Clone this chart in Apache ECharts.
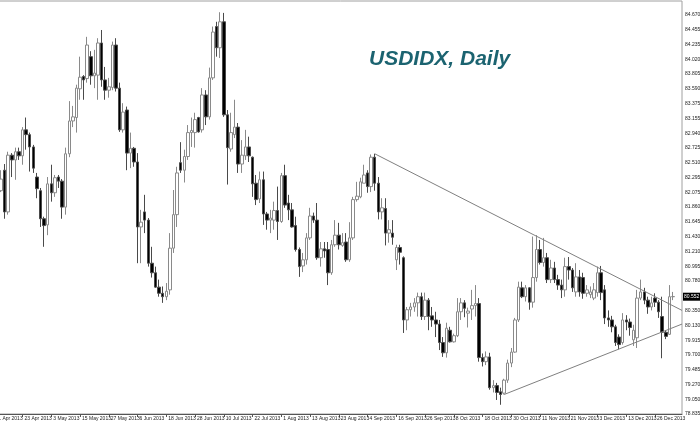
<!DOCTYPE html>
<html><head><meta charset="utf-8">
<script src="https://cdn.jsdelivr.net/npm/echarts@6/dist/echarts.min.js"></script>
<style>html,body{margin:0;padding:0;background:#fff}#c{width:700px;height:424px}</style>
</head><body><div id="c"></div><script>
// ---- data ----
const MONTHS = ['Jan','Feb','Mar','Apr','May','Jun','Jul','Aug','Sep','Oct','Nov','Dec'];
const sessionFirstDay = '2013-04-11';
const sessionLastDay = '2014-01-03';
const holidays = ['2013-12-25', '2014-01-01'];
const firstBarDate = '15 Apr 2013';
const rightPadSlots = 2;

const opens = [
82.10,82.40,81.79,82.62,82.55,82.67,82.61,82.99,82.92,82.74,
82.30,82.10,81.69,81.60,82.20,82.07,82.30,82.24,81.86,82.64,
83.12,83.17,83.59,83.77,83.74,84.06,83.78,83.79,84.26,83.72,
83.57,83.61,84.23,83.60,82.99,83.28,82.65,82.72,82.52,81.57,
81.79,81.67,81.04,80.90,80.69,80.60,80.55,80.65,81.26,81.75,
82.51,82.40,82.60,82.95,82.95,83.17,82.99,83.50,83.18,83.75,
84.50,84.19,84.57,83.21,82.71,82.92,83.03,82.49,82.61,82.74,
82.59,82.21,81.98,82.26,81.76,81.67,81.67,81.81,81.65,82.32,
81.92,81.82,81.59,81.24,81.00,81.09,81.41,81.73,81.67,81.12,
81.25,81.24,80.90,81.31,81.45,81.30,81.35,81.09,81.41,81.97,
82.01,82.21,82.36,82.16,82.59,82.21,81.79,81.84,81.48,81.48,
81.09,81.27,81.12,80.21,80.36,80.40,80.46,80.55,80.26,80.50,
80.27,80.21,80.15,79.88,79.73,80.06,79.89,79.98,80.33,80.46,
80.31,80.37,80.42,80.45,79.66,79.60,79.67,79.22,79.25,79.16,
79.14,79.33,79.58,79.74,80.21,80.68,80.55,80.68,80.47,80.83,
81.24,81.05,81.12,80.80,80.97,80.80,80.72,80.65,80.99,80.94,
80.62,80.84,80.83,80.60,80.58,80.53,80.61,80.90,80.65,80.24,
80.21,80.11,79.96,79.88,80.21,80.18,79.92,79.95,80.53,80.62,
80.50,80.40,80.53,80.47,80.26,80.03,80.00,80.55
];
const closes = [
82.27,81.79,82.62,82.55,82.67,82.61,82.99,82.92,82.74,82.43,
82.13,81.69,81.59,82.20,82.07,82.29,82.24,81.86,82.64,83.12,
83.18,83.60,83.76,83.72,84.23,83.78,83.82,84.26,83.72,83.57,
83.62,84.23,83.60,82.99,83.25,82.65,82.72,82.52,81.57,81.64,
81.67,81.04,80.90,80.69,80.60,80.55,80.63,81.26,81.75,82.36,
82.40,82.60,82.95,82.98,83.14,82.96,83.50,83.18,83.75,84.42,
84.19,84.57,83.21,82.73,82.95,83.03,82.49,82.62,82.74,82.61,
82.20,81.97,82.26,81.76,81.67,81.70,81.81,81.65,82.32,81.89,
81.82,81.57,81.24,80.99,81.09,81.41,81.73,81.67,81.12,81.25,
81.22,80.90,81.31,81.45,81.31,81.34,81.09,81.41,81.97,82.02,
82.23,82.33,82.16,82.59,82.21,81.79,81.85,81.48,81.53,81.42,
81.27,81.20,80.21,80.36,80.40,80.46,80.55,80.26,80.50,80.26,
80.21,80.15,79.88,79.73,80.09,79.89,79.98,80.33,80.46,80.38,
80.34,80.42,80.45,79.66,79.60,79.67,79.22,79.25,79.15,79.12,
79.33,79.58,79.74,80.21,80.69,80.55,80.68,80.47,80.83,81.24,
81.05,81.12,80.80,80.97,80.80,80.72,80.65,80.99,80.94,80.68,
80.84,80.62,80.60,80.65,80.62,80.65,80.90,80.61,80.24,80.21,
80.11,79.88,79.85,80.21,80.18,80.10,80.06,80.53,80.62,80.50,
80.40,80.46,80.47,80.33,80.03,79.97,80.55,80.552
];
const highs = [
82.40,82.49,82.67,82.65,82.73,82.73,83.03,83.17,82.95,82.77,
82.36,82.14,81.72,82.30,82.48,82.33,82.33,82.27,82.73,83.41,
83.34,83.65,84.06,83.79,84.35,84.14,84.16,84.33,84.45,83.91,
83.75,84.28,84.33,83.68,83.38,83.33,82.95,82.74,82.65,81.82,
82.04,81.70,81.28,80.99,80.80,80.70,80.75,81.48,82.11,82.45,
82.81,82.70,83.06,83.17,83.24,83.18,83.60,83.57,83.90,84.50,
84.57,84.71,84.70,83.28,83.24,83.43,83.09,82.84,82.99,82.89,
82.60,82.33,82.38,82.38,81.79,81.82,81.94,82.16,82.36,82.48,
82.04,81.92,81.72,81.27,81.19,81.48,81.85,81.78,81.92,81.35,
81.35,81.35,81.38,81.67,81.63,81.48,81.48,81.64,82.01,82.23,
82.29,82.48,82.40,82.63,82.64,82.30,81.99,81.99,81.67,81.67,
81.31,81.31,81.14,80.40,80.46,80.53,80.61,80.61,80.61,80.53,
80.40,80.33,80.21,79.96,80.17,80.11,80.01,80.53,80.53,80.50,
80.39,80.65,80.72,80.53,79.72,79.75,79.73,79.33,79.29,79.22,
79.35,79.63,79.80,80.24,80.77,80.77,80.72,80.69,81.43,81.45,
81.38,81.41,81.19,81.09,81.06,80.87,80.80,81.12,81.13,80.97,
81.04,80.94,80.90,80.72,80.70,80.75,80.99,81.00,80.72,80.35,
80.27,80.14,80.00,80.31,80.28,80.23,80.14,80.65,80.80,80.68,
80.55,80.55,80.60,80.50,80.55,80.06,80.72,80.62
];
const lows = [
82.08,81.69,81.75,82.30,82.26,82.55,82.48,82.70,82.38,82.36,
81.99,81.57,81.28,81.45,81.94,82.01,82.14,81.69,81.75,82.59,
83.03,82.95,83.43,83.43,83.68,83.65,83.60,83.43,83.62,83.43,
83.46,83.57,83.55,82.96,82.95,82.40,82.43,82.45,81.04,81.04,
81.48,80.99,80.83,80.68,80.55,80.46,80.50,80.58,81.19,81.57,
82.36,82.22,82.55,82.74,82.73,82.95,82.95,83.06,83.14,83.72,
84.06,84.04,83.18,82.19,82.67,82.87,82.36,82.36,82.55,82.52,
82.01,81.89,81.92,81.60,81.53,81.48,81.53,81.38,81.63,81.85,
81.67,81.56,81.21,80.84,80.91,81.02,81.38,81.63,81.09,80.99,
81.12,80.72,80.87,81.28,81.24,81.28,81.06,81.06,81.38,81.94,
81.99,82.21,82.07,82.08,82.10,81.68,81.68,81.30,81.34,81.31,
80.94,81.02,80.02,80.06,80.26,80.33,80.26,80.21,80.21,80.06,
80.11,79.96,79.77,79.67,79.66,79.88,79.88,79.96,80.21,80.25,
80.10,80.21,80.26,79.60,79.53,79.55,79.19,79.15,79.04,78.97,
79.12,79.29,79.52,79.73,80.18,80.53,80.48,80.36,80.39,80.77,
81.02,80.99,80.75,80.75,80.75,80.65,80.53,80.55,80.80,80.62,
80.55,80.55,80.52,80.55,80.53,80.50,80.55,80.50,80.15,80.11,
80.03,79.83,79.78,79.85,80.06,79.98,79.83,79.80,80.50,80.44,
80.30,80.35,80.40,80.24,79.65,79.93,79.99,80.50
];
const priceTicks = [84.670,84.455,84.235,84.020,83.805,83.590,83.375,83.155,82.940,82.725,
  82.510,82.295,82.075,81.860,81.645,81.430,81.210,80.995,80.780,80.350,80.130,79.915,
  79.700,79.485,79.270,79.050,78.835];
const priceMin = 78.835, priceMax = 84.874;
const labelEvery = 8;
const upperTrendStart = ['6 Sep 2013', 82.64], upperTrendEdge = 80.35;
const lowerTrendStart = ['28 Oct 2013', 79.12], lowerTrendEdge = 80.15;

// ---- categories ----
const categories = [];
for (let t = Date.parse(sessionFirstDay + 'T00:00:00Z'); t <= Date.parse(sessionLastDay + 'T00:00:00Z'); t += 864e5) {
  const d = new Date(t), wd = d.getUTCDay();
  if (wd === 0 || wd === 6) continue;
  if (holidays.includes(d.toISOString().slice(0, 10))) continue;
  categories.push(d.getUTCDate() + ' ' + MONTHS[d.getUTCMonth()] + ' ' + d.getUTCFullYear());
}
const nDates = categories.length;
for (let k = 0; k < rightPadSlots; k++) categories.push(' '.repeat(k + 1));
const offset = categories.indexOf(firstBarDate);
const candleData = categories.map((c, p) => {
  const i = p - offset;
  if (i < 0 || i >= opens.length) return ['-', '-', '-', '-'];
  return [opens[i], closes[i], lows[i], highs[i]];
});
const edgeX = categories.length - 0.5;
const lastClose = closes[closes.length - 1];

const chart = echarts.init(document.getElementById('c'), null, {renderer: 'canvas'});
const axisFont = {fontFamily: 'Liberation Sans', fontSize: 5, color: '#222'};
chart.setOption({
  animation: false,
  backgroundColor: '#ffffff',
  title: {
    text: 'USDIDX, Daily', left: 364, top: 44,
    textStyle: {fontFamily: 'Liberation Sans', fontSize: 21, fontWeight: 'bold', fontStyle: 'italic', color: '#1b6370'}
  },
  grid: {left: -8, right: 18, top: 1, bottom: 10, show: true, borderColor: '#a0a0a0', borderWidth: 1,
    containLabel: false, outerBoundsMode: 'none'},
  xAxis: [{
    type: 'category', data: categories, boundaryGap: true,
    axisLine: {lineStyle: {color: '#555', width: 1}},
    axisTick: {show: true, alignWithLabel: true, length: 3, interval: (idx) => idx % labelEvery === 0 && idx < nDates, lineStyle: {color: '#555'}},
    axisLabel: Object.assign({interval: (idx) => idx % labelEvery === 0 && idx < nDates, align: 'left', margin: 2, padding: [0, 0, 0, 2]}, axisFont),
    splitLine: {show: false}
  }, {
    type: 'value', min: -0.5, max: edgeX, show: false
  }],
  yAxis: {
    type: 'value', position: 'right', min: priceMin, max: priceMax, scale: true,
    axisLine: {show: true, lineStyle: {color: '#555', width: 1}},
    axisTick: {show: true, length: 3, customValues: priceTicks, lineStyle: {color: '#555'}},
    axisLabel: Object.assign({customValues: priceTicks, formatter: (v) => v.toFixed(3), margin: 3}, axisFont),
    splitLine: {show: false}
  },
  series: [{
    type: 'candlestick', data: candleData, barWidth: 3,
    itemStyle: {color: '#ffffff', color0: '#000000', borderColor: '#8a8a8a', borderColor0: '#4a4a4a', borderWidth: 1}
  }, {
    type: 'line', xAxisIndex: 1, symbol: 'none', silent: true,
    lineStyle: {color: '#808080', width: 1},
    data: [[categories.indexOf(upperTrendStart[0]), upperTrendStart[1]], [edgeX, upperTrendEdge]],
    markLine: {
      silent: true, symbol: ['none', 'none'], animation: false,
      lineStyle: {color: 'rgba(0,0,0,0)', width: 0, type: 'solid'},
      data: [{yAxis: lastClose}],
      label: {show: true, position: 'end', distance: 1, formatter: () => lastClose.toFixed(3), backgroundColor: '#000', color: '#fff',
        fontFamily: 'Liberation Sans', fontSize: 5, padding: [2, 1, 1, 1]}
    }
  }, {
    type: 'line', xAxisIndex: 1, symbol: 'none', silent: true,
    lineStyle: {color: '#808080', width: 1},
    data: [[categories.indexOf(lowerTrendStart[0]), lowerTrendStart[1]], [edgeX, lowerTrendEdge]]
  }]
});
</script></body></html>
